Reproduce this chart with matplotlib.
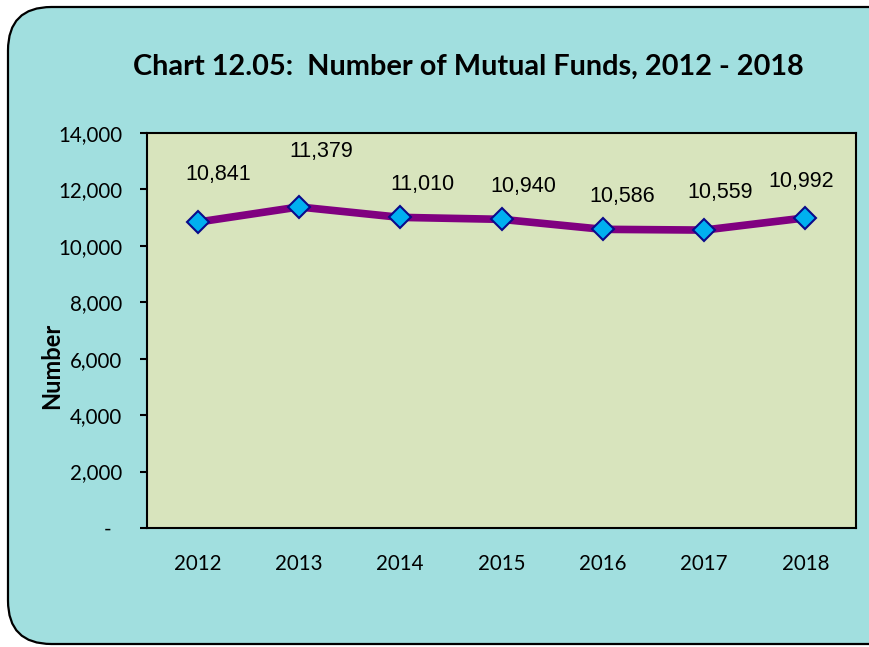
import matplotlib
matplotlib.use("Agg")
import matplotlib.pyplot as plt
from matplotlib.patches import FancyBboxPatch
from matplotlib.ticker import FuncFormatter

years = ["2012", "2013", "2014", "2015", "2016", "2017", "2018"]
funds = [10841, 11379, 11010, 10940, 10586, 10559, 10992]
yticks = [0, 2000, 4000, 6000, 8000, 10000, 12000, 14000]
# label offsets (pixels) relative to each point
label_dx = [21, 22, 22, 22, 19, 16, -4]
label_dy = [48, 55, 33, 33, 33, 38, 36]

W, H = 869, 647
fig = plt.figure(figsize=(W / 100, H / 100), dpi=100)
fig.patch.set_facecolor("white")

frame = FancyBboxPatch((8 / W, 3 / H), (W + 40) / W, (H - 10) / H,
                       boxstyle="round,pad=0,rounding_size=0.05",
                       transform=fig.transFigure, facecolor="#A1DFDF",
                       edgecolor="black", linewidth=1.6, zorder=-5,
                       mutation_aspect=W / H)
fig.patches.append(frame)

ax = fig.add_axes([147 / W, 1 - 528 / H, (856 - 147) / W, (528 - 133) / H])
ax.set_zorder(2)
ax.set_facecolor("#D8E4BD")
x = list(range(len(years)))
ax.plot(x, funds, color="#800080", linewidth=5.5, zorder=3,
        marker="D", markersize=11.5, markerfacecolor="#00B0F0",
        markeredgecolor="#0A0A8A", markeredgewidth=1.5)
ax.set_xlim(-0.5, len(years) - 0.5)
ax.set_ylim(0, 14000)
ax.set_yticks(yticks)
ax.yaxis.set_major_formatter(FuncFormatter(lambda v, p: "-  " if v == 0 else f"{int(v):,}"))
ax.set_xticks(x)
ax.set_xticklabels(years)
for s in ax.spines.values():
    s.set_color("black")
    s.set_linewidth(1.5)
ax.tick_params(axis="y", direction="out", length=5, width=1.5, pad=13,
               labelsize=14.8)
ax.tick_params(axis="x", length=0, pad=19, labelsize=14.8)
for lbl in ax.get_xticklabels() + ax.get_yticklabels():
    lbl.set_fontfamily("Lato")

for xi, v, dx, dy in zip(x, funds, label_dx, label_dy):
    ax.annotate(f"{v:,}", (xi, v), xytext=(dx, dy), textcoords="offset pixels",
                ha="center", va="center", fontsize=15.5,
                fontfamily="Liberation Sans", color="black")

ax.set_ylabel("Number", fontsize=17, fontweight="bold", fontfamily="Lato",
              va="center")
ax.yaxis.set_label_coords((52 - 147) / (856 - 147), (528 - 366) / (528 - 133))

fig.text(468 / W, 1 - 67 / H, "Chart 12.05:  Number of Mutual Funds, 2012 - 2018",
         ha="center", va="center", fontsize=20.8, fontweight="bold",
         fontfamily="Lato")

fig.savefig("out.png", dpi=100, facecolor=fig.get_facecolor())
